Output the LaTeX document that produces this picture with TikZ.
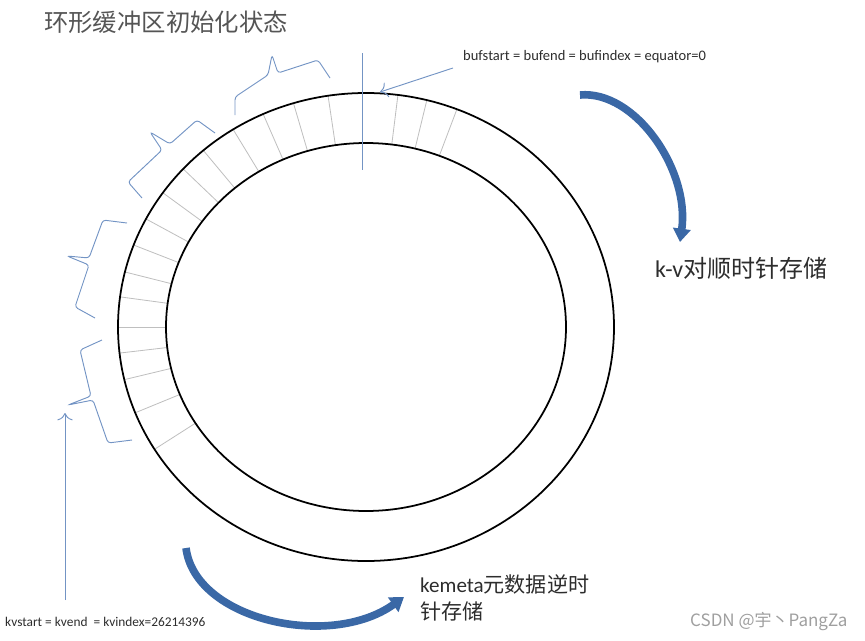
\documentclass[tikz,border=0pt]{standalone}
\usepackage{fontspec}
\setmainfont{Carlito}
\newfontfamily\cjk{Noto Sans CJK SC}
\usetikzlibrary{arrows.meta}
\definecolor{lanxian}{HTML}{7394C4}
\definecolor{lanjian}{HTML}{3A68A6}
\definecolor{huiC}{RGB}{85,85,85}
\definecolor{ziC}{RGB}{45,45,45}
\tikzset{
  ring/.style={draw=black, line width=1.5pt},
  cell/.style={draw=gray!50, line width=0.7pt},
  kuohao/.style={draw=lanxian, line width=0.8pt, rounded corners=2.5pt},
  zhixian/.style={draw=lanxian, line width=0.8pt},
  pointer/.style={zhixian, -{To[length=2.2mm]}},
  flow/.style={draw=lanjian, line width=6.5pt, -{Triangle[length=4mm, width=5.2mm]}},
  lbl/.style={anchor=west, inner sep=0pt, text=ziC},
}

\begin{document}
\begin{tikzpicture}[x=0.03cm, y=-0.03cm]
  \useasboundingbox (0,0) rectangle (865,640);
  % ring cells between the two circles
  \foreach \a in {68.5,75.8,82.6,98.8,107,114.5,122.4,131,137.5,145,152.5,
                  159.5,166.4,172.6,180,186.4,193,201.5,211.5}
    \draw[cell] ({366+248*cos(\a)},{327-234*sin(\a)})
             -- ({366+200*cos(\a)},{327-184*sin(\a)});
  \coordinate (c) at (366,327);
  \draw[ring] (c) ellipse [x radius=248, y radius=234];
  \draw[ring] (c) ellipse [x radius=200, y radius=184];

  % braces around the ring
  \draw[kuohao] (235,115) -- (235,97) -- (268,75) -- (272,55) -- (278,73) -- (318,60) -- (330,78);
  \draw[kuohao] (142,198) -- (128,182) -- (162,150) -- (150,132) -- (170,144) -- (197,120) -- (215,133);
  \draw[kuohao] (127,223) -- (103,220) -- (89,258) -- (67,256) -- (89,265) -- (75,307) -- (95,318);
  \draw[kuohao] (102,340) -- (80,350) -- (91,396) -- (68,405) -- (93,400) -- (108,443) -- (132,440);

  % labels
  \node[lbl, text=huiC, font=\cjk\fontsize{20.8pt}{24pt}\selectfont] (biaoti) at (44,22) {环形缓冲区初始化状态};
  \node[lbl, font=\fontsize{12.4pt}{14pt}\selectfont] (bufnote) at (463,57) {bufstart = bufend = bufindex = equator=0};
  \node[lbl, font=\fontsize{11.4pt}{13pt}\selectfont] (kvnote) at (5,622) {kvstart = kvend \ = kvindex=26214396};
  \node[lbl, font=\fontsize{20.5pt}{24pt}\selectfont] (kvdir) at (655,268) {k-v{\cjk 对顺时针存储}};
  \node[lbl, align=left, font=\fontsize{18pt}{23pt}\selectfont] (metadir) at (420,598)
    {kemeta{\cjk 元数据逆时}\\{\cjk 针存储}};
  \node[lbl, text=gray!75, font=\cjk\fontsize{14.5pt}{16pt}\selectfont] (shuiyin) at (690,622) {CSDN @宇丶PangZa};

  % equator marker and pointers
  \coordinate (eqtop) at (362,53);
  \coordinate (eqbot) at (362,170);
  \draw[zhixian] (eqtop) -- (eqbot);
  \coordinate (buftail) at (453,68);
  \coordinate (bufhead) at (380,92);
  \draw[pointer] (buftail) -- (bufhead);
  \coordinate (kvtail) at (65,600);
  \coordinate (kvhead) at (65,413);
  \draw[pointer] (kvtail) -- (kvhead);

  % storage directions
  \coordinate (cwtail) at (580,95);
  \coordinate (cwhead) at (680,242);
  \draw[flow] (cwtail) .. controls (635,90) and (690,170) .. (cwhead);
  \coordinate (ccwtail) at (186,548);
  \coordinate (ccwhead) at (404,597);
  \draw[flow] (ccwtail) .. controls (195,620) and (330,650) .. (ccwhead);
\end{tikzpicture}
\end{document}
